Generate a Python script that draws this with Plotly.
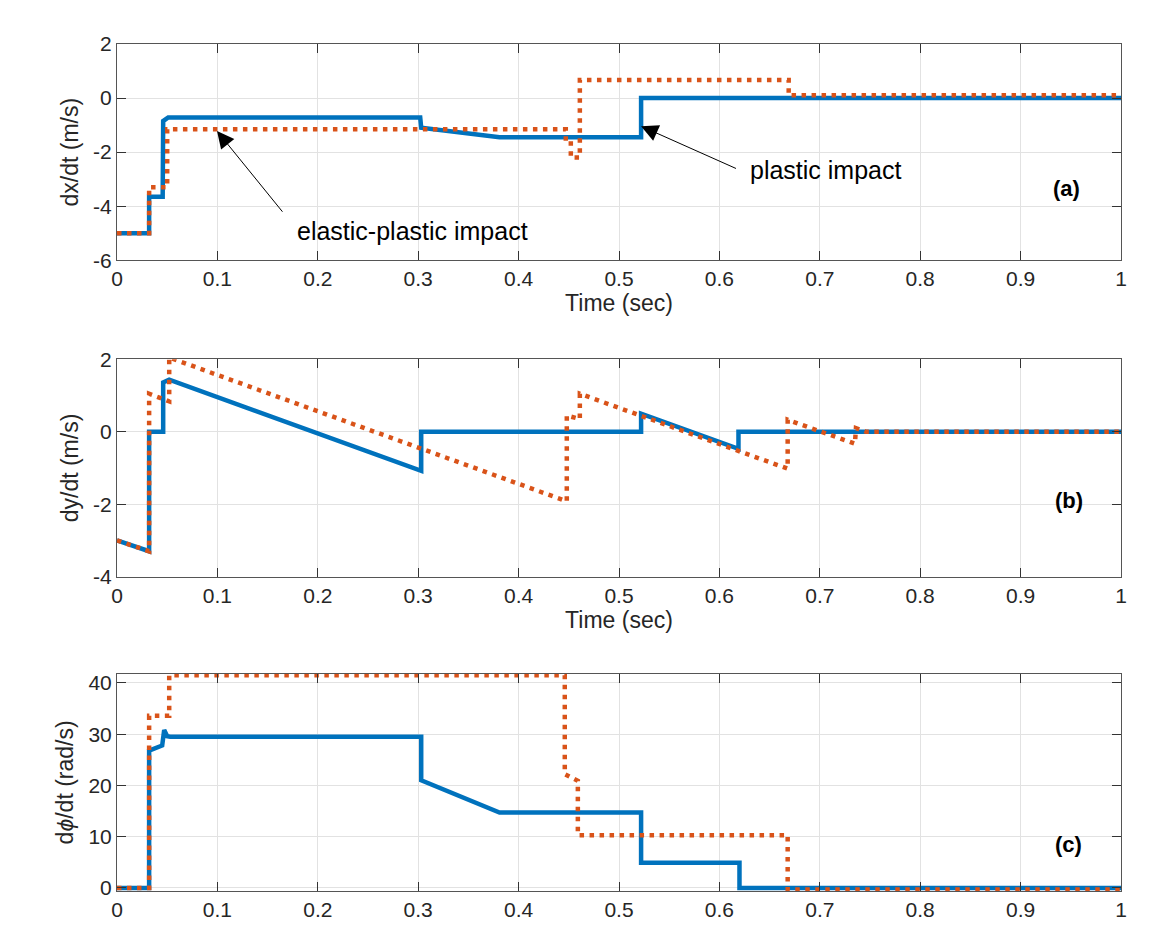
import plotly.graph_objects as go

# ---------------- data ----------------
ta_blue = [0, 0.032, 0.032, 0.0455, 0.046, 0.051, 0.302, 0.303, 0.381, 0.522, 0.522, 1.0]
va_blue = [-5, -5, -3.65, -3.65, -0.85, -0.72, -0.72, -1.1, -1.45, -1.45, 0, 0]
ta_orange = [0, 0.032, 0.032, 0.050, 0.050, 0.447, 0.447, 0.452, 0.452, 0.461, 0.461, 0.669, 0.669, 1.0]
va_orange = [-5, -5, -3.3, -3.3, -1.15, -1.15, -1.5, -1.5, -2.2, -2.2, 0.67, 0.67, 0.1, 0.1]

tb_blue = [0, 0.032, 0.032, 0.046, 0.046, 0.052, 0.303, 0.303, 0.522, 0.522, 0.619, 0.619, 1.0]
vb_blue = [-3.0, -3.3, 0, 0, 1.36, 1.44, -1.08, 0, 0, 0.5, -0.47, 0, 0]
tb_orange = [0, 0.032, 0.032, 0.052, 0.052, 0.448, 0.448, 0.461, 0.461, 0.668, 0.668, 0.735, 0.736, 0.746, 1.0]
vb_orange = [-3.0, -3.3, 1.05, 0.84, 2.05, -1.92, 0.45, 0.35, 1.05, -1.02, 0.33, -0.33, 0.1, 0.0, 0.0]

tc_blue = [0, 0.032, 0.032, 0.045, 0.047, 0.050, 0.053, 0.303, 0.303, 0.381, 0.522, 0.522, 0.620, 0.620, 1.0]
vc_blue = [0, 0, 26.8, 27.8, 30.8, 29.6, 29.5, 29.5, 21.0, 14.7, 14.7, 4.9, 4.9, 0, 0]
tc_orange = [0, 0.032, 0.032, 0.052, 0.052, 0.446, 0.446, 0.459, 0.459, 0.668, 0.668, 1.0]
vc_orange = [0, 0, 33.6, 33.6, 41.5, 41.5, 22.2, 20.9, 10.3, 10.3, -0.3, -0.3]

x_ticks = [0, 0.1, 0.2, 0.3, 0.4, 0.5, 0.6, 0.7, 0.8, 0.9, 1.0]
x_tick_text = ["0", "0.1", "0.2", "0.3", "0.4", "0.5", "0.6", "0.7", "0.8", "0.9", "1"]
ya_ticks = [-6, -4, -2, 0, 2]
ya_tick_text = ["-6", "-4", "-2", "0", "2"]
yb_ticks = [-4, -2, 0, 2]
yb_tick_text = ["-4", "-2", "0", "2"]
yc_ticks = [0, 10, 20, 30, 40]
yc_tick_text = ["0", "10", "20", "30", "40"]

BLUE = "#0072BD"
ORANGE = "#D95319"
FONT = "Liberation Sans, Arial, Helvetica, sans-serif"
DOTS = "4.5px,5.5px"

fig = go.Figure()

panels = [
    (ta_blue, va_blue, ta_orange, va_orange, "x", "y"),
    (tb_blue, vb_blue, tb_orange, vb_orange, "x2", "y2"),
    (tc_blue, vc_blue, tc_orange, vc_orange, "x3", "y3"),
]
for tbl, vbl, tor, vor, xa, ya in panels:
    fig.add_trace(go.Scatter(x=tbl, y=vbl, mode="lines", xaxis=xa, yaxis=ya,
                             line=dict(color=BLUE, width=4.5), showlegend=False))
    fig.add_trace(go.Scatter(x=tor, y=vor, mode="lines", xaxis=xa, yaxis=ya,
                             line=dict(color=ORANGE, width=4.5, dash=DOTS), showlegend=False))

axis_common = dict(
    showline=True, linecolor="#555555", linewidth=1, mirror="ticks",
    ticks="inside", ticklen=9, tickcolor="#333333", tickwidth=1,
    showgrid=True, gridcolor="#e2e2e2", gridwidth=1, zeroline=False,
    tickfont=dict(family=FONT, size=21, color="#262626"),
)
xax = dict(axis_common, range=[0, 1], tickvals=x_ticks, ticktext=x_tick_text)
TITLE_FONT = dict(family=FONT, size=23, color="#262626")

fig.update_layout(
    width=1163, height=925,
    margin=dict(l=109, r=50, t=36, b=37),
    paper_bgcolor="white", plot_bgcolor="white",
    font=dict(family=FONT, size=21, color="#262626"),
    xaxis=dict(xax, domain=[0, 1], anchor="y",
               title=dict(text="Time (sec)", standoff=2, font=TITLE_FONT)),
    yaxis=dict(axis_common, domain=[0.7447, 1.0], anchor="x", range=[-6, 2],
               tickvals=ya_ticks, ticktext=ya_tick_text,
               title=dict(text="dx/dt (m/s)", standoff=8, font=TITLE_FONT)),
    xaxis2=dict(xax, domain=[0, 1], anchor="y2",
                title=dict(text="Time (sec)", standoff=2, font=TITLE_FONT)),
    yaxis2=dict(axis_common, domain=[0.3712, 0.6277], anchor="x2", range=[-4, 2],
                tickvals=yb_ticks, ticktext=yb_tick_text,
                title=dict(text="dy/dt (m/s)", standoff=8, font=TITLE_FONT)),
    xaxis3=dict(xax, domain=[0, 1], anchor="y3"),
    yaxis3=dict(axis_common, domain=[0, 0.2565], anchor="x3", range=[-0.6, 41.8],
                tickvals=yc_ticks, ticktext=yc_tick_text,
                title=dict(text="d<i>ϕ</i>/dt (rad/s)", standoff=8, font=TITLE_FONT)),
)

# arrows
fig.add_annotation(x=0.0996, y=-1.22, ax=0.166, ay=-4.26, xref="x", yref="y", axref="x", ayref="y",
                   text="", showarrow=True, arrowhead=2, arrowsize=3.4, arrowwidth=1, arrowcolor="black")
fig.add_annotation(x=0.522, y=-1.04, ax=0.618, ay=-2.63, xref="x", yref="y", axref="x", ayref="y",
                   text="", showarrow=True, arrowhead=2, arrowsize=3.4, arrowwidth=1, arrowcolor="black")
# texts
fig.add_annotation(x=0.177, y=-4.9, xref="x", yref="y", text="elastic-plastic impact", showarrow=False,
                   xanchor="left", yanchor="middle", font=dict(family=FONT, size=25, color="black"))
fig.add_annotation(x=0.628, y=-2.65, xref="x", yref="y", text="plastic impact", showarrow=False,
                   xanchor="left", yanchor="middle", font=dict(family=FONT, size=25, color="black"))
fig.add_annotation(x=0.946, y=-3.35, xref="x", yref="y", text="<b>(a)</b>", showarrow=False,
                   font=dict(family=FONT, size=22, color="black"))
fig.add_annotation(x=0.948, y=-1.9, xref="x2", yref="y2", text="<b>(b)</b>", showarrow=False,
                   font=dict(family=FONT, size=22, color="black"))
fig.add_annotation(x=0.948, y=8.4, xref="x3", yref="y3", text="<b>(c)</b>", showarrow=False,
                   font=dict(family=FONT, size=22, color="black"))

fig.write_html("out.html")
